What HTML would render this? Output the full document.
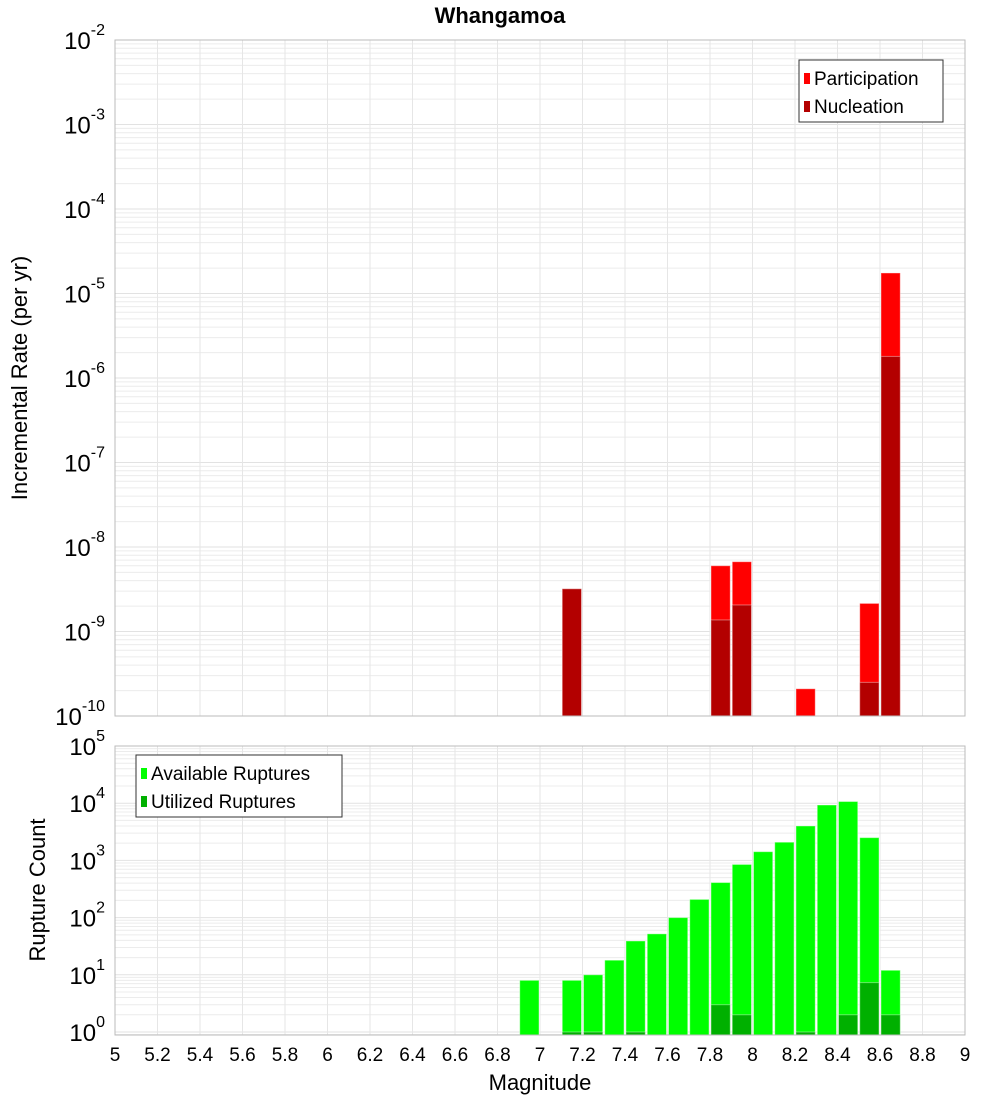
<!DOCTYPE html>
<html><head><meta charset="utf-8"><style>
body{margin:0;background:#fff}
text{font-family:"Liberation Sans","DejaVu Sans",sans-serif}
</style></head><body>
<svg id="c" width="1000" height="1100" xmlns="http://www.w3.org/2000/svg">
<text x="500" y="23" text-anchor="middle" font-size="22" font-weight="bold">Whangamoa</text>
<g id="top"></g>
<g id="bot"></g>
<text x="540" y="1090" text-anchor="middle" font-size="22">Magnitude</text>
<text transform="translate(27,378) rotate(-90)" text-anchor="middle" font-size="22">Incremental Rate (per yr)</text>
<text transform="translate(45,890) rotate(-90)" text-anchor="middle" font-size="22">Rupture Count</text>
</svg>
<script>
const partMags=[7.15,7.85,7.95,8.25,8.55,8.65];
const partVals=[3.2e-9,6e-9,6.7e-9,2.1e-10,2.15e-9,1.75e-5];
const nuclMags=[7.15,7.85,7.95,8.55,8.65];
const nuclVals=[3.2e-9,1.37e-9,2.06e-9,2.5e-10,1.8e-6];
const availMags=[6.95,7.15,7.25,7.35,7.45,7.55,7.65,7.75,7.85,7.95,8.05,8.15,8.25,8.35,8.45,8.55,8.65];
const availVals=[8,8,10,18,39,52,100,208,410,850,1420,2080,4000,9300,10700,2500,12];
const utilMags=[7.15,7.25,7.45,7.85,7.95,8.25,8.45,8.55,8.65];
const utilVals=[1,1,1,3,2,1,2,7.3,2];
const xTicks=[5,5.2,5.4,5.6,5.8,6,6.2,6.4,6.6,6.8,7,7.2,7.4,7.6,7.8,8,8.2,8.4,8.6,8.8,9];
const topExps=[-2,-3,-4,-5,-6,-7,-8,-9,-10];
const botExps=[5,4,3,2,1,0];

const NS="http://www.w3.org/2000/svg";
const X0=115,X1=965;
const x=m=>X0+(m-5)/4*(X1-X0);
function el(p,t,a){const e=document.createElementNS(NS,t);for(const k in a)e.setAttribute(k,a[k]);p.appendChild(e);return e;}
function panel(g,yTop,yBot,lmax,lmin,name){
  const y=v=>yTop+(lmax-Math.log10(v))/(lmax-lmin)*(yBot-yTop);
  for(let d=Math.floor(lmin);d<lmax;d++){for(let k=1;k<10;k++){const v=k*Math.pow(10,d);const l=Math.log10(v);if(l<lmin||l>lmax)continue;
    const ln=el(g,'line',{x1:X0,x2:X1,y1:y(v),y2:y(v),stroke:k==1?'#e2e2e2':'#ececec','stroke-width':1});
    }}
  xTicks.forEach(t=>{const ln=el(g,'line',{x1:x(t),x2:x(t),y1:yTop,y2:yBot,stroke:'#e6e6e6'});
    });
  return y;
}
function bars(g,y,yBot,mags,vals,col,name){
  mags.forEach((m,i)=>{const top=y(vals[i]);const r=el(g,'rect',{x:x(m-0.05)+1,y:top,width:x(m+0.05)-x(m-0.05)-2,height:yBot-top,fill:col,stroke:'rgba(255,255,255,0.4)','stroke-width':1});
    });
}
function yLabels(g,y,exps,fs){
  exps.forEach(e=>{const t=el(g,'text',{x:105,y:y(Math.pow(10,e))+9,'text-anchor':'end','font-size':24});
    
    t.innerHTML='10<tspan dy="-14" font-size="16">'+e+'</tspan>';});
}
function legend(g,lx,ly,w,items){
  const b=el(g,'rect',{x:lx,y:ly,width:w,height:62,fill:'#fff',stroke:'#333'});
  
  items.forEach((it,i)=>{const s=el(g,'rect',{x:lx+5,y:ly+13+i*28,width:6,height:11,fill:it[1]});
    
    const t=el(g,'text',{x:lx+15,y:ly+25+i*28,'font-size':19});t.textContent=it[0];
    });
}
const gt=document.getElementById('top'),gb=document.getElementById('bot');
// top
const T0=40,T1=716;
const yt=panel(gt,T0,T1,-2,-10,'top');
bars(gt,yt,T1,partMags,partVals,'#ff0000','participation');
bars(gt,yt,T1,nuclMags,nuclVals,'#b30000','nucleation');
el(gt,'rect',{x:X0,y:T0,width:X1-X0,height:T1-T0,fill:'none',stroke:'#bbb'});
yLabels(gt,yt,topExps);
legend(gt,799,60,144,[['Participation','#ff0000'],['Nucleation','#b30000']]);
// bottom
const B0=746,B1=1035;const dec=57.2;const lminB=-(289-5*dec)/dec;
const yb=panel(gb,B0,B1,5,lminB,'bottom');
bars(gb,yb,B1,availMags,availVals,'#00ff00','available');
bars(gb,yb,B1,utilMags,utilVals,'#00b000','utilized');
el(gb,'rect',{x:X0,y:B0,width:X1-X0,height:B1-B0,fill:'none',stroke:'#bbb'});
yLabels(gb,yb,botExps);
legend(gb,136,755,206,[['Available Ruptures','#00ff00'],['Utilized Ruptures','#00b000']]);
xTicks.forEach(t=>{const tx=el(gb,'text',{x:x(t),y:1061,'text-anchor':'middle','font-size':19});tx.textContent=String(t);
  });
</script>
</body></html>
